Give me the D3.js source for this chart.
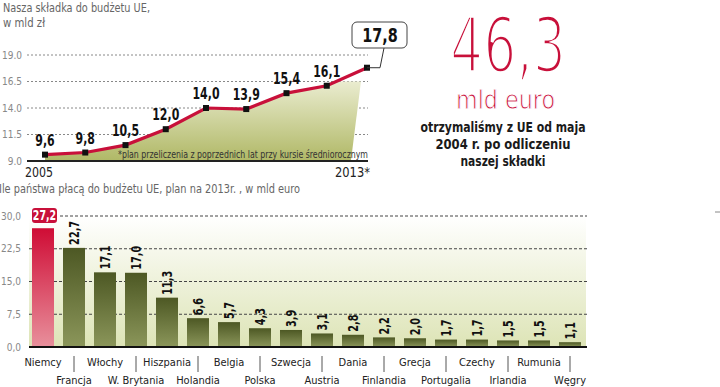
<!DOCTYPE html>
<html>
<head>
<meta charset="utf-8">
<script src="https://cdn.jsdelivr.net/npm/d3@7"></script>
<style>
  body { margin: 0; background: #fff; }
  svg { display: block; }
  text { font-family: "DejaVu Sans Condensed", "DejaVu Sans", sans-serif; }
</style>
</head>
<body>
<svg id="chart" width="720" height="387"></svg>
<script>
// top chart: our contribution, bln zl
const years = [2005, 2006, 2007, 2008, 2009, 2010, 2011, 2012, 2013];
const contrib = [9.6, 9.8, 10.5, 12.0, 14.0, 13.9, 15.4, 16.1, 17.8];
const topTicks = [9.0, 11.5, 14.0, 16.5, 19.0];

// bottom chart: payments 2013, bln euro
const countries = ["Niemcy", "Francja", "Włochy", "W. Brytania", "Hiszpania", "Holandia",
  "Belgia", "Polska", "Szwecja", "Austria", "Dania", "Finlandia", "Grecja", "Portugalia",
  "Czechy", "Irlandia", "Rumunia", "Węgry"];
const payments = [27.2, 22.7, 17.1, 17.0, 11.3, 6.6, 5.7, 4.3, 3.9, 3.1, 2.8, 2.2, 2.0, 1.7, 1.7, 1.5, 1.5, 1.1];
const bottomTicks = [0, 7.5, 15, 22.5, 30];

const red = "#c8103a";
const fmt = v => d3.format(".1f")(v).replace(".", ",");

const svg = d3.select("#chart");
const defs = svg.append("defs");

// gradients
function grad(id, c0, c1) {
  const g = defs.append("linearGradient").attr("id", id).attr("x1", 0).attr("y1", 0).attr("x2", 0).attr("y2", 1);
  g.append("stop").attr("offset", "0%").attr("stop-color", c0);
  g.append("stop").attr("offset", "100%").attr("stop-color", c1);
}
grad("areaGrad", "#f4f5e2", "#b0b866");
grad("bgGrad", "#ffffff", "#dde4b6");
grad("barGrad", "#4d5824", "#8b965a");
grad("redGrad", "#cf0c35", "#e8909c");

// ---------- TOP LINE CHART ----------
const x = d3.scaleLinear().domain([2005, 2013]).range([45, 367]);
const y = d3.scaleLinear().domain([9, 19]).range([161, 55]);
const pts = years.map((yr, i) => ({ year: yr, value: contrib[i] }));

svg.append("text").attr("x", 3).attr("y", 12).attr("fill", "#666").attr("font-size", 12.5)
  .attr("font-family", "'DejaVu Sans'")
  .attr("textLength", 147).attr("lengthAdjust", "spacingAndGlyphs")
  .text("Nasza składka do budżetu UE,");
svg.append("text").attr("x", 3).attr("y", 27).attr("fill", "#666").attr("font-size", 12.5)
  .attr("textLength", 42).attr("lengthAdjust", "spacingAndGlyphs")
  .text("w mld zł");

// grid
svg.append("g").selectAll("line").data(topTicks.slice(1)).join("line")
  .attr("x1", 27).attr("x2", 368)
  .attr("y1", d => y(d)).attr("y2", d => y(d))
  .attr("stroke", "#888").attr("stroke-width", 1).attr("stroke-dasharray", "2,2");

svg.append("g").selectAll("text").data(topTicks).join("text")
  .attr("x", 22).attr("y", d => y(d) + 3.5).attr("text-anchor", "end")
  .attr("font-size", 10).attr("fill", "#888")
  .text(d => d3.format(".1f")(d));

// area under line, clipped with slanted right edge
defs.append("clipPath").attr("id", "areaClip").append("polygon")
  .attr("points", [[x(2005), y(16.5)], [x(2012.85), y(16.5)], [x(2012.6), y(9)], [x(2005), y(9)]].join(" "));

svg.append("path").datum(pts)
  .attr("clip-path", "url(#areaClip)")
  .attr("fill", "url(#areaGrad)")
  .attr("d", d3.area().x(d => x(d.year)).y0(y(9)).y1(d => y(d.value)));

svg.append("line").attr("x1", 27).attr("x2", 368).attr("y1", y(9)).attr("y2", y(9))
  .attr("stroke", "#222").attr("stroke-width", 2);

svg.append("path").datum(pts)
  .attr("fill", "none").attr("stroke", red).attr("stroke-width", 3.2)
  .attr("d", d3.line().x(d => x(d.year)).y(d => y(d.value)));

svg.append("g").selectAll("rect").data(pts).join("rect")
  .attr("x", d => x(d.year) - 3).attr("y", d => y(d.value) - 3)
  .attr("width", 6).attr("height", 6).attr("fill", "#111");

svg.append("g").selectAll("text").data(pts.slice(0, -1)).join("text")
  .attr("transform", d => `translate(${x(d.year)},${y(d.value) - 9}) scale(0.74,1)`)
  .attr("text-anchor", "middle").attr("font-size", 16.5).attr("font-weight", "bold").attr("fill", "#111")
  .text(d => fmt(d.value));

// callout for the last value
const last = pts[pts.length - 1];
svg.append("path")
  .attr("d", `M${x(last.year)},${y(last.value)} L${x(last.year) + 13},${y(last.value)} L${x(last.year) + 17},48`)
  .attr("fill", "none").attr("stroke", "#333").attr("stroke-width", 1);
svg.append("rect").attr("x", 352).attr("y", 22).attr("width", 55).attr("height", 26).attr("rx", 5)
  .attr("fill", "#fff").attr("stroke", "#444").attr("stroke-width", 1);
svg.append("text").attr("transform", "translate(380,42) scale(0.8,1)").attr("text-anchor", "middle")
  .attr("font-size", 20).attr("font-weight", "bold").attr("fill", "#111").text(fmt(last.value));

svg.append("text").attr("x", 118).attr("y", 158).attr("font-size", 10).attr("fill", "#333")
  .attr("textLength", 250).attr("lengthAdjust", "spacingAndGlyphs")
  .text("*plan przeliczenia z poprzednich lat przy kursie średniorocznym");

svg.append("text").attr("x", 25).attr("y", 177).attr("font-size", 14.5).attr("fill", "#222")
  .attr("textLength", 28).attr("lengthAdjust", "spacingAndGlyphs").text(years[0]);
svg.append("text").attr("x", 335).attr("y", 177).attr("font-size", 14.5)
  .attr("textLength", 35).attr("lengthAdjust", "spacingAndGlyphs")
  .attr("fill", "#222").text(years[years.length - 1] + "*");

// ---------- BIG NUMBER ----------
svg.append("text").attr("x", 450).attr("y", 72).attr("font-family", "Lato, 'Open Sans', sans-serif")
  .attr("font-size", 76).attr("fill", red).attr("stroke", "#fff").attr("stroke-width", 3.5)
  .attr("textLength", 116).attr("lengthAdjust", "spacingAndGlyphs").text("46,3");
svg.append("text").attr("x", 456).attr("y", 109)
  .attr("font-family", "Lato, 'Open Sans', sans-serif")
  .attr("font-size", 26).attr("fill", red).attr("stroke", "#fff").attr("stroke-width", 0.9)
  .attr("textLength", 99).attr("lengthAdjust", "spacingAndGlyphs").text("mld euro");
const note = ["otrzymaliśmy z UE od maja", "2004 r. po odliczeniu", "naszej składki"];
const noteW = [165, 135, 85];
svg.append("g").selectAll("text").data(note).join("text")
  .attr("x", 503).attr("y", (d, i) => 132 + i * 17).attr("text-anchor", "middle")
  .attr("textLength", (d, i) => noteW[i]).attr("lengthAdjust", "spacingAndGlyphs")
  .attr("font-size", 13.5).attr("font-weight", "bold").attr("fill", "#1a1a1a").text(d => d);

// ---------- BOTTOM BAR CHART ----------
const bx = d3.scaleBand().domain(countries).range([27.5, 585.5]).paddingInner(0.29).paddingOuter(0.145);
const by = d3.scaleLinear().domain([0, 30]).range([347, 216]);
const rows = countries.map((c, i) => ({ country: c, value: payments[i], i }));

svg.append("text").attr("x", -1).attr("y", 193).attr("font-size", 12.5).attr("fill", "#666")
  .attr("font-family", "'DejaVu Sans'")
  .attr("textLength", 301).attr("lengthAdjust", "spacingAndGlyphs")
  .text("Ile państwa płacą do budżetu UE, plan na 2013r. , w mld euro");

svg.append("rect").attr("x", 29).attr("y", by(30)).attr("width", 557).attr("height", by(0) - by(30))
  .attr("fill", "url(#bgGrad)");

svg.append("g").selectAll("line").data(bottomTicks.slice(1)).join("line")
  .attr("x1", d => d === 30 ? 60 : 29).attr("x2", 587)
  .attr("y1", d => by(d)).attr("y2", d => by(d))
  .attr("stroke", "#444").attr("stroke-width", 1).attr("stroke-dasharray", "3,2");

svg.append("g").selectAll("text").data(bottomTicks).join("text")
  .attr("x", 21).attr("y", d => by(d) + 3.5).attr("text-anchor", "end")
  .attr("font-size", 10).attr("fill", "#888").text(d => fmt(d));

svg.append("g").selectAll("rect").data(rows).join("rect")
  .attr("x", d => bx(d.country)).attr("width", bx.bandwidth())
  .attr("y", d => by(d.value)).attr("height", d => by(0) - by(d.value))
  .attr("fill", d => d.i === 0 ? "url(#redGrad)" : "url(#barGrad)");

svg.append("line").attr("x1", 29).attr("x2", 587).attr("y1", by(0)).attr("y2", by(0))
  .attr("stroke", "#111").attr("stroke-width", 2.2);

// rotated value labels
svg.append("g").selectAll("text").data(rows.slice(1)).join("text")
  .attr("transform", d => `translate(${bx(d.country) + bx.bandwidth() / 2 + 4.5},${by(d.value) - 3}) rotate(-90) scale(0.8,1)`)
  .attr("font-size", 13.5).attr("font-weight", "bold").attr("fill", "#111")
  .text(d => fmt(d.value));

// highlighted first value
const top0 = rows[0];
svg.append("rect").attr("x", bx(top0.country)).attr("y", 208).attr("width", 25).attr("height", 15).attr("rx", 3)
  .attr("fill", red);
svg.append("text").attr("transform", `translate(${bx(top0.country) + 12.5},220) scale(0.75,1)`)
  .attr("text-anchor", "middle")
  .attr("font-size", 14).attr("font-weight", "bold").attr("fill", "#fff").text(fmt(top0.value));

// country labels on two rows with separators
svg.append("g").selectAll("text").data(rows).join("text")
  .attr("x", d => bx(d.country) + bx.bandwidth() / 2)
  .attr("y", d => d.i % 2 === 0 ? 366 : 384)
  .attr("font-family", "'DejaVu Sans'")
  .attr("text-anchor", "middle").attr("font-size", 11).attr("fill", "#222")
  .text(d => d.country);

svg.append("g").selectAll("line").data(rows.filter(d => d.i % 2 === 1)).join("line")
  .attr("x1", d => bx(d.country) + bx.bandwidth() / 2).attr("x2", d => bx(d.country) + bx.bandwidth() / 2)
  .attr("y1", 356).attr("y2", 372).attr("stroke", "#555").attr("stroke-width", 1);

svg.append("line").attr("x1", 715).attr("x2", 720).attr("y1", 212).attr("y2", 212)
  .attr("stroke", "#888").attr("stroke-width", 1);
</script>
</body>
</html>
